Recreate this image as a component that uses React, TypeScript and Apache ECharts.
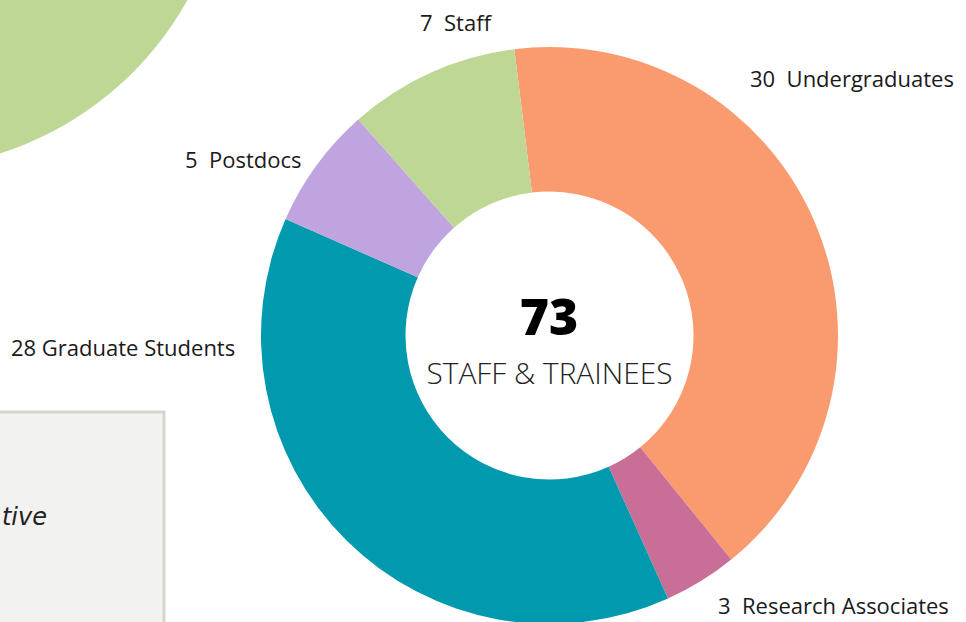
import React, { useEffect, useRef } from "react";
import * as echarts from "echarts";

const categories = ["Undergraduates", "Research Associates", "Graduate Students", "Postdocs", "Staff"];
const values = [30, 3, 28, 5, 7];
const colors = ["#f99b6f", "#c96f97", "#0099ad", "#c0a4e0", "#bfd794"];
const separators = ["  ", "  ", " ", "  ", "  "];
const labelPos = [
  [750, 78],
  [718, 605],
  [11, 347],
  [185, 159],
  [420, 22],
];
const total = values.reduce((a, b) => a + b, 0);
const centerCaption = "STAFF & TRAINEES";

export default function App() {
  const ref = useRef<HTMLDivElement>(null);
  useEffect(() => {
    if (!ref.current) return;
    const chart = echarts.init(ref.current, undefined, { renderer: "svg" });
    const font = "'Open Sans', sans-serif";
    chart.setOption({
      animation: false,
      backgroundColor: "#ffffff",
      graphic: [
        {
          type: "circle",
          shape: { cx: -100, cy: -160, r: 329 },
          style: { fill: "#bfd794" },
          z: 0,
        },
        {
          type: "rect",
          shape: { x: -10, y: 412, width: 174, height: 230 },
          style: { fill: "#f2f2f0", stroke: "#d5d5cd", lineWidth: 3 },
          z: 0,
        },
        {
          type: "text",
          x: 47,
          y: 517,
          style: {
            text: "tive",
            font: "italic 24px 'DejaVu Sans', sans-serif",
            fill: "#222222",
            align: "right",
            verticalAlign: "middle",
          },
          z: 1,
        },
        {
          type: "text",
          x: 549,
          y: 316,
          style: {
            text: String(total),
            font: "900 50px 'Open Sans', sans-serif",
            fill: "#000000",
            align: "center",
            verticalAlign: "middle",
          },
          z: 10,
        },
        {
          type: "text",
          x: 549.5,
          y: 372,
          style: {
            text: centerCaption,
            font: "300 29.8px 'Open Sans', sans-serif",
            fill: "#222222",
            align: "center",
            verticalAlign: "middle",
          },
          z: 10,
        },
      ],
      series: [
        {
          type: "pie",
          center: [549.5, 335.5],
          radius: [144, 288.5],
          startAngle: 97,
          clockwise: true,
          avoidLabelOverlap: false,
          itemStyle: { borderWidth: 0 },
          label: {
            show: true,
            position: "outside",
            fontFamily: font,
            fontSize: 22,
            color: "#1a1a1a",
            formatter: (p: any) => `${p.value}${separators[p.dataIndex]}${p.name}`,
          },
          labelLine: { show: false },
          labelLayout: (p: any) => ({
            x: labelPos[p.dataIndex][0],
            y: labelPos[p.dataIndex][1],
            align: "left",
            verticalAlign: "middle",
          }),
          emphasis: { disabled: true },
          data: categories.map((name, i) => ({
            name,
            value: values[i],
            itemStyle: { color: colors[i] },
          })),
        },
      ],
    });
    return () => chart.dispose();
  }, []);
  return (
    <div
      ref={ref}
      style={{ position: "fixed", left: 0, top: 0, width: 966, height: 622 }}
    />
  );
}
